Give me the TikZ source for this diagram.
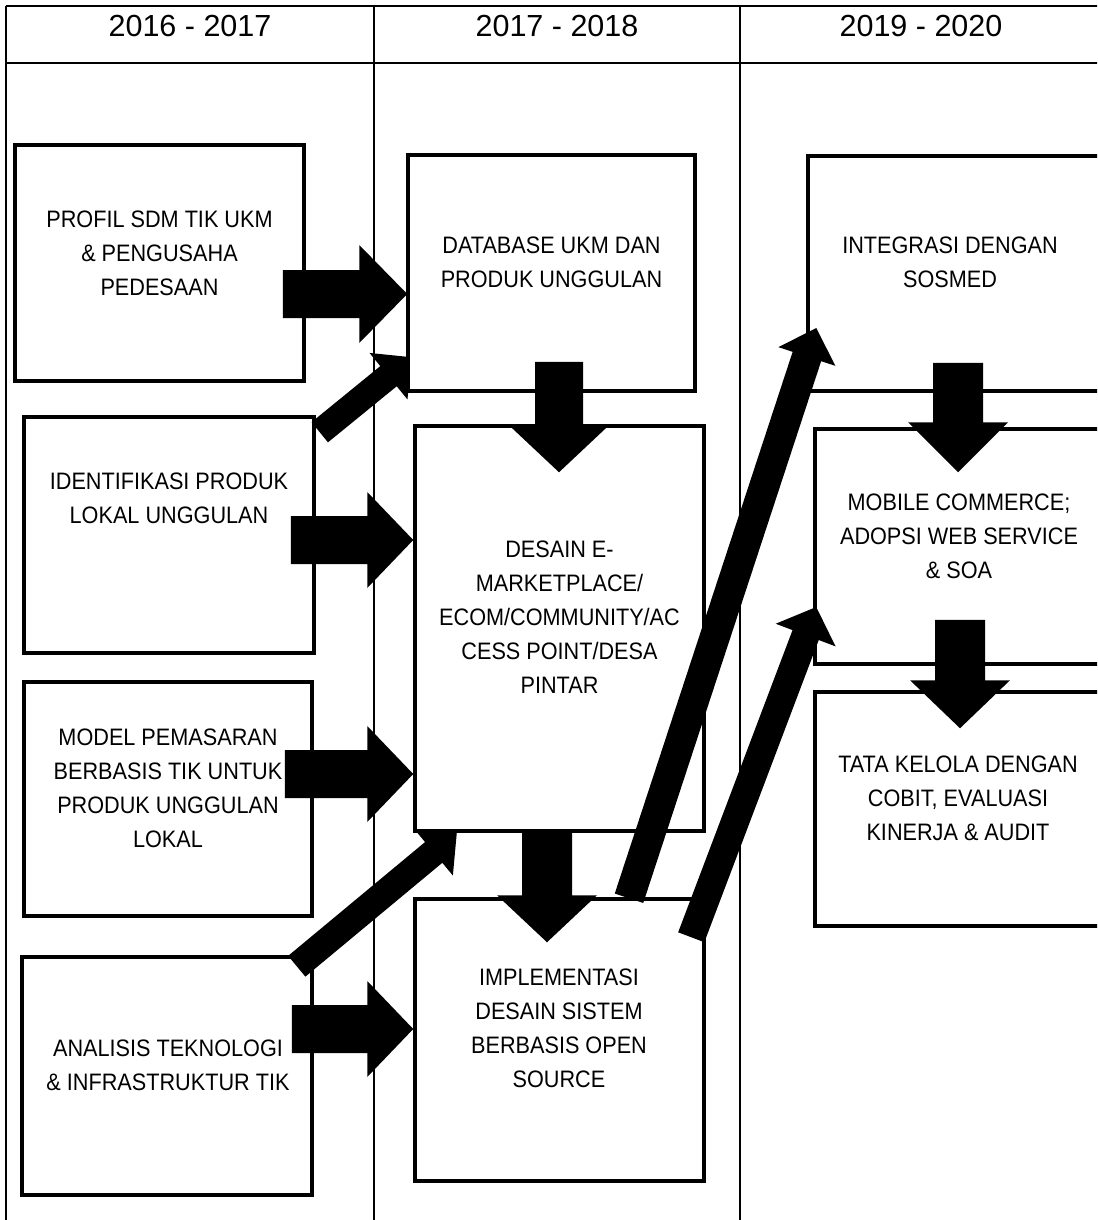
\documentclass[tikz,border=0pt]{standalone}
\usepackage{fontspec}
\setmainfont{Liberation Sans}
\newfontfamily\boxfont{Liberation Sans}[FakeStretch=0.91]
\usetikzlibrary{calc}
% block arrow: #1 start, #2 tip, #3 shaft half width, #4 head half width, #5 head length
\newcommand\blockarr[5]{%
  \path (#1) coordinate (ba-s) (#2) coordinate (ba-e);
  \path ($(ba-e)!#5!(ba-s)$) coordinate (ba-b);
  \fill[arrowfill] ($(ba-s)!#3!90:(ba-e)$) -- ($(ba-b)!#3!90:(ba-e)$) -- ($(ba-b)!#4!90:(ba-e)$) -- (ba-e) -- ($(ba-b)!#4!-90:(ba-e)$) -- ($(ba-b)!#3!-90:(ba-e)$) -- ($(ba-s)!#3!-90:(ba-e)$) -- cycle;}
\tikzset{
  box/.style={draw=black, line width=3.5pt, fill=white, inner sep=0pt, rectangle},
  boxtext/.style={font=\boxfont\fontsize{23.8}{34}\selectfont, align=center, inner sep=0pt},
  headtext/.style={font=\fontsize{30.5}{36}\selectfont, anchor=base, inner sep=0pt},
  tableline/.style={line width=2pt, draw=black},
  arrowfill/.style={fill=black},
}
\begin{document}
\begin{tikzpicture}[x=1pt, y=-1pt]
\useasboundingbox (0,0) rectangle (1097,1220);
\fill[white] (0,0) rectangle (1097,1220);
\clip (0,0) rectangle (1097,1220);

% table grid
\draw[tableline] (6,6) -- (1110,6);
\draw[tableline] (6,63) -- (1110,63);
\draw[tableline] (6,6) -- (6,1225);
\draw[tableline] (374,6) -- (374,1225);
\draw[tableline] (740,6) -- (740,1225);

% headers
\node[headtext] (h1) at (190,37) {2016 - 2017};
\node[headtext] (h2) at (557,37) {2017 - 2018};
\node[headtext] (h3) at (921,37) {2019 - 2020};

% column 1 boxes
\node[box, minimum width=289pt, minimum height=236pt] (A) at (159.5,263) {};
\node[boxtext] (At) at (159.5,253.5) {PROFIL SDM TIK UKM\\\& PENGUSAHA\\PEDESAAN};
\node[box, minimum width=290pt, minimum height=236pt] (B) at (169,535) {};
\node[boxtext] (Bt) at (169,498) {IDENTIFIKASI PRODUK\\LOKAL UNGGULAN};
\node[box, minimum width=288pt, minimum height=234pt] (C) at (168,799) {};
\node[boxtext] (Ct) at (168,788) {MODEL PEMASARAN\\BERBASIS TIK UNTUK\\PRODUK UNGGULAN\\LOKAL};
\node[box, minimum width=290pt, minimum height=238pt] (D) at (167,1076) {};
\node[boxtext] (Dt) at (168,1065) {ANALISIS TEKNOLOGI\\\& INFRASTRUKTUR TIK};

% column 2 lower box
\node[box, minimum width=289pt, minimum height=282pt] (G) at (559.5,1040) {};
\node[boxtext] (Gt) at (559,1028) {IMPLEMENTASI\\DESAIN SISTEM\\BERBASIS OPEN\\SOURCE};

% column 3 boxes
\node[box, minimum width=295pt, minimum height=235pt] (H) at (955.5,273.5) {};
\node[boxtext] (Ht) at (950,262) {INTEGRASI DENGAN\\SOSMED};
\node[box, minimum width=288pt, minimum height=235pt] (I) at (959,546.5) {};
\node[boxtext] (It) at (959,536.5) {MOBILE COMMERCE;\\ADOPSI WEB SERVICE\\\& SOA};
\node[box, minimum width=288pt, minimum height=234pt] (J) at (959,809) {};
\node[boxtext] (Jt) at (958,798) {TATA KELOLA DENGAN\\COBIT, EVALUASI\\KINERJA \& AUDIT};

% arrows partly hidden under boxes E and F
\blockarr{$(B.north east)+(4,17)$}{$(B.north east)+(96,-58)$}{13pt}{30pt}{30pt}
\blockarr{$(D.north east)+(-17,11)$}{$(D.north east)+(143,-122)$}{13.5pt}{30pt}{30pt}

% column 2 upper boxes
\node[box, minimum width=287pt, minimum height=236pt] (E) at (551.5,273) {};
\node[boxtext] (Et) at (551.5,262) {DATABASE UKM DAN\\PRODUK UNGGULAN};
\node[box, minimum width=289pt, minimum height=405pt] (F) at (559.5,628.5) {};
\node[boxtext] (Ft) at (559.5,617.5) {DESAIN E-\\MARKETPLACE/\\ECOM/COMMUNITY/AC\\CESS POINT/DESA\\PINTAR};

% horizontal arrows
\blockarr{$(A.east)+(-23,31)$}{$(E.west)+(1,21)$}{24pt}{49pt}{48pt}
\blockarr{$(B.east)+(-25,5)$}{$(F.west)+(0,-88.5)$}{24pt}{48pt}{46pt}
\blockarr{$(C.east)+(-29,-25)$}{$(F.west)+(0,145.5)$}{24pt}{48pt}{46pt}
\blockarr{$(D.east)+(-22,-47)$}{$(G.west)+(0,-11)$}{24pt}{48pt}{46pt}

% vertical arrows
\blockarr{$(E.south)+(7.5,-31)$}{$(F.north)+(-0.5,48)$}{24pt}{50pt}{47pt}
\blockarr{$(F.south)+(-12.5,0)$}{$(G.north)+(-12.5,45)$}{25pt}{50pt}{47pt}
\blockarr{$(H.south)+(2.5,-30)$}{$(I.north)+(-1,45)$}{25pt}{50pt}{50pt}
\blockarr{$(I.south)+(1,-46)$}{$(J.north)+(1,38)$}{25pt}{50pt}{48pt}

% diagonal arrows to column 3
\blockarr{$(G.north)+(69.5,1)$}{$(H.west)+(10,54.5)$}{15pt}{30pt}{30pt}
\blockarr{$(G.north east)+(-14.5,40)$}{$(I.west)+(3,60.5)$}{14pt}{32pt}{30pt}
\end{tikzpicture}
\end{document}
